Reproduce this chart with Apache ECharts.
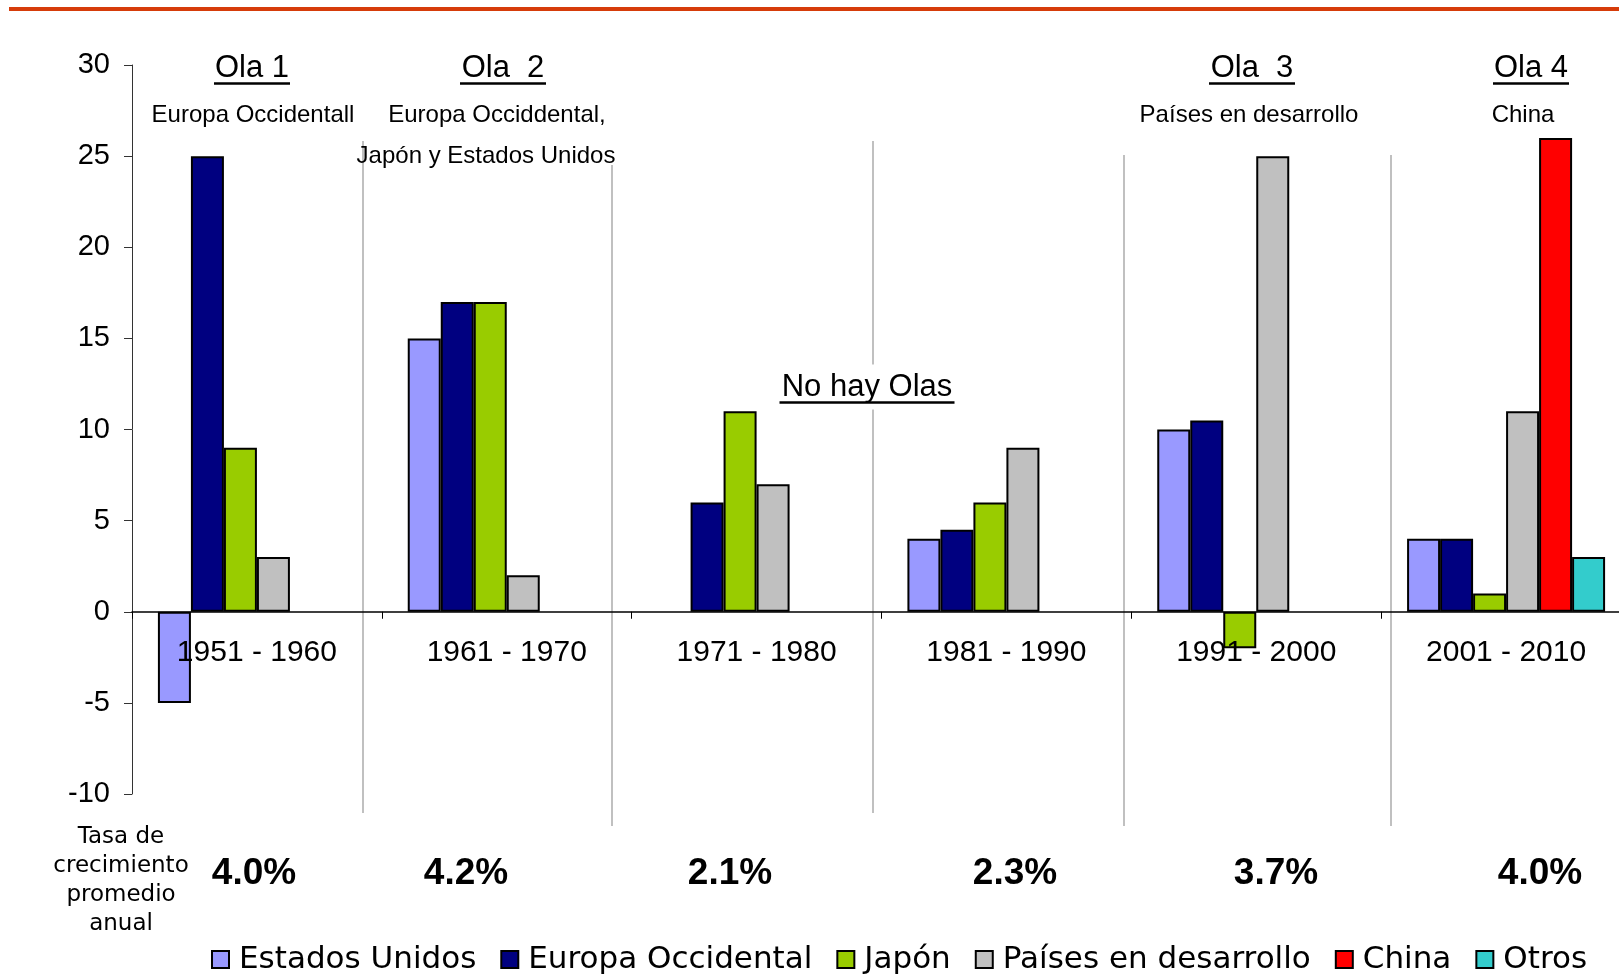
<!DOCTYPE html>
<html>
<head>
<meta charset="utf-8">
<title>Olas de crecimiento</title>
<script src="https://cdn.jsdelivr.net/npm/echarts@6/dist/echarts.min.js"></script>
<style>
  html, body { margin: 0; padding: 0; background: #fff; overflow: hidden; }
  #chart { width: 1631px; height: 976px; }
</style>
</head>
<body>
<div id="chart"></div>
<script>
// categorias (decadas)
var categorias = ['1951 - 1960', '1961 - 1970', '1971 - 1980', '1981 - 1990', '1991 - 2000', '2001 - 2010'];

// series
var estadosUnidos = [-5, 15, null, 4, 10, 4];
var europaOccidental = [25, 17, 6, 4.5, 10.5, 4];
var japon = [9, 17, 11, 6, -2, 1];
var paisesDesarrollo = [3, 2, 7, 9, 25, 11];
var china = [null, null, null, null, null, 26];
var otros = [null, null, null, null, null, 3];

// tasa de crecimiento promedio anual
var tasas = ['4.0%', '4.2%', '2.1%', '2.3%', '3.7%', '4.0%'];

// eje y
var yMin = -10, yMax = 30, yPaso = 5;

var FUENTE = 'Arial, "Liberation Sans", sans-serif';
var FUENTE2 = '"DejaVu Sans", Verdana, sans-serif';

var myChart = echarts.init(document.getElementById('chart'));

// posiciones de los textos (px)
var tasaX = [254, 466, 730, 1015, 1276, 1540];
var separadores = [
    [363, 141, 813], [612, 165, 826], [873, 141, 813], [1124, 155, 826], [1391, 155, 826]
];

var graficos = [];
// linea naranja superior
graficos.push({ type: 'rect', shape: { x: 9, y: 7, width: 1622, height: 4 }, style: { fill: '#d63c0a' }, z: 1 });

// separadores grises
separadores.forEach(function (s) {
    graficos.push({
        type: 'line', shape: { x1: s[0], y1: s[1], x2: s[0], y2: s[2] },
        style: { stroke: '#c0c0c0', lineWidth: 2 }, z: 0
    });
});

function titulo(texto, x, y, size, ancho, fondo) {
    graficos.push({
        type: 'text', x: x, y: y, z: 10,
        style: {
            text: texto, font: size + 'px ' + FUENTE, fill: '#000',
            align: 'center', verticalAlign: 'middle',
            backgroundColor: fondo ? '#fff' : null, padding: fondo ? [6, 4, 8, 4] : 0
        }
    });
    graficos.push({
        type: 'line', z: 11,
        shape: { x1: x - ancho / 2, y1: y + size * 0.5, x2: x + ancho / 2, y2: y + size * 0.5 },
        style: { stroke: '#000', lineWidth: 2.5 }
    });
}
function nota(texto, x, y) {
    graficos.push({
        type: 'text', x: x, y: y, z: 10,
        style: { text: texto, font: '24px ' + FUENTE, fill: '#000', align: 'center', verticalAlign: 'middle' }
    });
}

titulo('Ola 1', 252, 68, 31, 76);
titulo('Ola  2', 503, 68, 31, 86);
titulo('Ola  3', 1252, 68, 31, 86);
titulo('Ola 4', 1531, 68, 31, 76);
titulo('No hay Olas', 867, 387, 31, 175, true);

nota('Europa Occidentall', 253, 115);
nota('Europa Occiddental,', 497, 115);
nota('Japón y Estados Unidos', 486, 156);
nota('Países en desarrollo', 1249, 115);
nota('China', 1523, 115);

// etiqueta izquierda
graficos.push({
    type: 'text', x: 121, y: 881, z: 10,
    style: {
        text: 'Tasa de\ncrecimiento\npromedio\nanual', font: '23px ' + FUENTE2, fill: '#000',
        align: 'center', verticalAlign: 'middle', lineHeight: 29
    }
});
tasas.forEach(function (t, i) {
    graficos.push({
        type: 'text', x: tasaX[i], y: 874, z: 10,
        style: { text: t, font: 'bold 37px ' + FUENTE, fill: '#000', align: 'center', verticalAlign: 'middle' }
    });
});

function serie(nombre, datos, color) {
    return {
        name: nombre, type: 'bar', data: datos,
        barWidth: 33, barGap: '0%',
        itemStyle: { color: color, borderColor: '#000', borderWidth: 2 },
        emphasis: { disabled: true }
    };
}

var option = {
    animation: false,
    backgroundColor: '#fff',
    grid: { left: 132, right: 0, top: 65, bottom: 182 },
    legend: {
        left: 206, top: 939,
        icon: 'rect', itemWidth: 17, itemHeight: 17, itemGap: 24,
        itemStyle: { borderColor: '#000', borderWidth: 2 },
        textStyle: { fontFamily: FUENTE2, fontSize: 31, color: '#000', padding: [0, 0, 0, 5] },
        data: ['Estados Unidos', 'Europa Occidental', 'Japón', 'Países en desarrollo', 'China', 'Otros']
    },
    xAxis: {
        type: 'category', data: categorias, z: 5,
        axisLine: { onZero: true, lineStyle: { color: '#000', width: 1.5 } },
        axisTick: { show: true, length: 7, lineStyle: { color: '#000' } },
        // las etiquetas van bajo la linea de cero
        axisLabel: { interval: 0, margin: -156, fontFamily: FUENTE, fontSize: 30, color: '#000' },
        splitLine: { show: false }
    },
    yAxis: {
        type: 'value', min: yMin, max: yMax, interval: yPaso,
        axisLine: { show: true, lineStyle: { color: '#333', width: 1 } },
        axisTick: { show: true, length: 8, lineStyle: { color: '#333' } },
        axisLabel: { margin: 22, fontFamily: FUENTE, fontSize: 29, color: '#000' },
        splitLine: { show: false }
    },
    series: [
        serie('Estados Unidos', estadosUnidos, '#9999ff'),
        serie('Europa Occidental', europaOccidental, '#000080'),
        serie('Japón', japon, '#99cc00'),
        serie('Países en desarrollo', paisesDesarrollo, '#c0c0c0'),
        serie('China', china, '#ff0000'),
        serie('Otros', otros, '#33cccc')
    ],
    graphic: graficos
};

myChart.setOption(option);
</script>
</body>
</html>
